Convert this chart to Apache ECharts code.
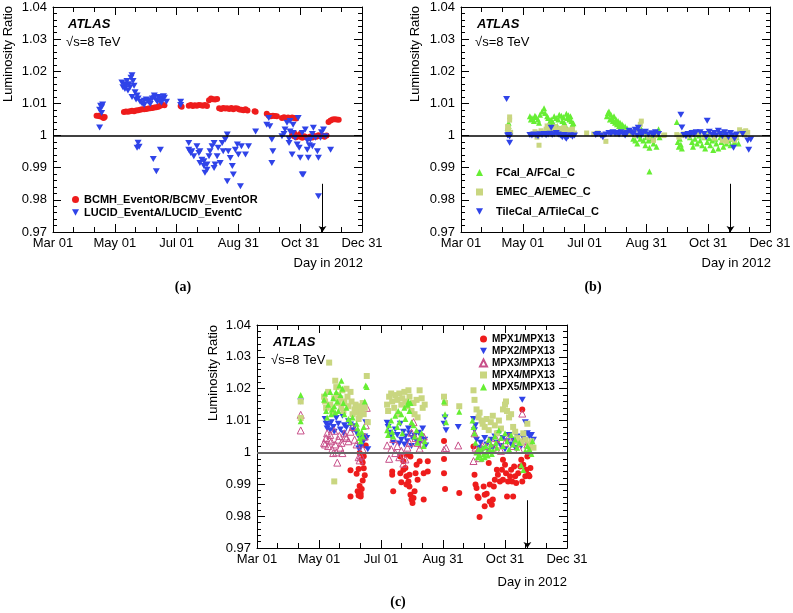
<!DOCTYPE html>
<html><head><meta charset="utf-8">
<script src="https://cdn.jsdelivr.net/npm/echarts@6.0.0/dist/echarts.min.js"></script>
<style>html,body{margin:0;padding:0;background:#fff}#c{width:793px;height:613px}</style>
</head><body><div id="c"></div>
<script>
// x values: days since Mar 01, 2012
const xTickLabels = ['Mar 01','May 01','Jul 01','Aug 31','Oct 31','Dec 31'];
const xTickStepDays = 61;
const xRange = [0, 305];
const yTickLabels = ['0.97','0.98','0.99','1','1.01','1.02','1.03','1.04'];
const yRange = [0.97, 1.04];
const refLine = [1.0];
const arrowDay = [266];
const arrowSpan = [0.985, 0.97];

// panel (a)
const bcmh = [
[43,1.0062],[45,1.0062],[46,1.0060],[47,1.0060],[49,1.0057],[50,1.0055],[51,1.0058],
[70,1.0073],[72,1.0075],[74,1.0074],[76,1.0076],[78,1.0077],[80,1.0076],[82,1.0078],[84,1.0079],[86,1.0080],[88,1.0082],[90,1.0082],[92,1.0083],[94,1.0084],[96,1.0085],[98,1.0086],[100,1.0087],[102,1.0088],[104,1.0090],[106,1.0093],[108,1.0095],[110,1.0094],
[126,1.0092],[127,1.0090],
[134,1.0093],[136,1.0095],[138,1.0092],[140,1.0094],[142,1.0093],[144,1.0095],[146,1.0094],[148,1.0093],[150,1.0095],[152,1.0092],
[154,1.0110],[156,1.0115],[158,1.0113],[160,1.0112],[162,1.0114],
[164,1.0085],[166,1.0083],[168,1.0086],[170,1.0084],[172,1.0085],[174,1.0083],[176,1.0086],[178,1.0082],[180,1.0085],[182,1.0084],[184,1.0081],
[186,1.0080],[188,1.0079],[190,1.0082],[192,1.0078],
[199,1.0076],[200,1.0074],
[211,1.0068],[213,1.0062],[215,1.0060],[217,1.0062],[219,1.0061],[221,1.0060],
[226,1.0055],[228,1.0057],[230,1.0054],[232,1.0056],[234,1.0055],[236,1.0056],[238,1.0055],[240,1.0053],
[236,1.0002],[238,0.9998],[240,0.9995],[242,1.0000],[244,0.9996],[246,0.9993],[248,0.9998],[250,0.9995],[252,0.9992],[254,0.9997],[256,0.9994],[258,0.9999],[260,0.9996],[262,1.0001],[264,0.9998],[266,1.0000],[268,0.9996],[270,1.0000],[238,1.0008],[244,1.0005],
[272,1.0042],[274,1.0047],[276,1.0050],[278,1.0051],[280,1.0050],[282,1.0049]
];
const lucid = [
[46,1.0025],[46,1.0080],[47,1.0093],[48,1.0088],[48,1.0070],[49,1.0097],
[68,1.0165],[69,1.0150],[70,1.0160],[71,1.0145],[72,1.0155],[73,1.0170],[74,1.0140],[75,1.0160],[76,1.0150],[77,1.0180],[78,1.0188],[79,1.0170],[80,1.0155],[78,1.0120],[81,1.0135],[82,1.0112],
[83,1.0125],[84,1.0115],[86,1.0105],[88,1.0100],[90,1.0108],[92,1.0112],[94,1.0105],[96,1.0110],[98,1.0115],[100,1.0118],[102,1.0110],[104,1.0120],[106,1.0115],[108,1.0112],[110,1.0118],[112,1.0105],[90,1.0095],[96,1.0098],[103,1.0105],[107,1.0102],[100,1.0125],[105,1.0108],[109,1.0122],
[84,0.9978],[83,0.9962],[85,0.9965],[99,0.9927],[102,0.9889],[106,0.9956],
[126,1.0105],[126,1.0095],
[134,0.9977],[134,0.9956],[136,0.9946],[137,0.9951],[139,0.9936],[142,0.9967],[144,0.9946],[145,0.9951],[145,0.9915],[147,0.9925],[149,0.9905],[149,0.9920],[150,0.9884],[152,0.9894],[152,0.9910],[154,0.9936],[155,0.9951],[157,0.9967],[159,0.9977],[159,0.9899],[160,0.9910],[162,0.9936],[163,0.9962],[165,0.9915],[167,0.9977],[168,0.9951],[170,0.9988],[172,1.0003],[172,0.9858],[173,0.9951],[175,0.9930],[177,0.9905],[178,0.9879],[180,0.9956],[182,0.9972],[183,0.9941],[185,0.9842],[186,0.9967],[190,0.9941],[193,0.9967],[200,1.0013],
[211,1.0034],[213,1.0055],[214,1.0029],[216,0.9988],[217,0.9951],[216,0.9915],
[226,0.9998],[228,1.0005],[229,1.0019],[231,1.0040],[233,0.9990],[233,0.9977],[234,1.0013],[234,1.0045],[236,0.9941],[237,1.0034],[237,1.0008],[239,0.9993],[241,0.9972],[242,1.0055],[243,0.9962],[244,0.9931],[246,0.9879],[246,1.0008],[247,0.9879],[249,1.0019],[251,0.9956],[251,0.9985],[252,0.9931],[253,0.9970],[254,0.9988],[256,0.9967],[256,1.0005],[257,1.0024],[259,0.9993],[261,0.9951],[262,0.9931],[262,0.9811],[264,0.9993],[265,1.0010],[267,1.0019],[269,0.9998],[274,0.9956]
];

// panel (b)
const fcal = [
[46,1.0024],[47,1.0040],[47,1.0030],
[68,1.0060],[69,1.0050],[70,1.0055],[72,1.0045],[73,1.0062],[74,1.0058],[76,1.0050],[77,1.0040],[78,1.0065],[80,1.0075],[82,1.0085],[83,1.0070],[85,1.0060],[86,1.0055],[87,1.0035],[88,1.0045],[89,1.0050],[91,1.0040],[92,1.0060],[94,1.0055],[95,1.0030],[96,1.0050],[97,1.0065],[99,1.0062],[100,1.0045],[101,1.0058],[102,1.0040],[103,1.0032],[104,1.0068],[105,1.0055],[106,1.0063],[107,1.0050],[108,1.0060],[109,1.0045],[110,1.0035],[111,1.0038],
[144,1.0060],[145,1.0070],[146,1.0075],[147,1.0050],[148,1.0065],[149,1.0055],[150,1.0045],[151,1.0060],[152,1.0040],[153,1.0050],[154,1.0035],[155,1.0045],[156,1.0030],[157,1.0040],[158,1.0025],[159,1.0035],[160,1.0030],[161,1.0020],[162,1.0028],[164,1.0022],
[166,1.0010],[168,1.0015],[170,0.9990],[171,1.0005],[172,0.9985],[174,0.9975],[176,1.0000],[177,0.9990],[178,1.0020],[180,0.9985],[181,1.0010],[182,0.9970],[183,0.9995],[184,1.0005],[185,0.9985],[186,0.9962],[186,0.9888],[188,0.9990],[189,1.0000],[190,0.9975],[192,1.0010],[193,0.9965],[195,1.0020],[196,0.9995],
[213,1.0042],[214,0.9980],[215,0.9965],[216,0.9990],[217,0.9972],[218,0.9960],[226,0.9995],[227,1.0010],[228,0.9980],[229,0.9965],[231,0.9990],[232,1.0005],[233,0.9975],[235,1.0000],[236,0.9985],[238,0.9970],[240,0.9995],[241,0.9960],[243,0.9980],[244,1.0008],[245,0.9992],[246,0.9970],[248,0.9985],[249,0.9955],[250,1.0003],[251,0.9990],[252,0.9975],[254,0.9960],[256,0.9995],[257,0.9980],[258,1.0006],[259,0.9965],[261,0.9990],[262,0.9975],[264,0.9985],[266,0.9970],[268,0.9990],[270,0.9980],[272,0.9995],[274,0.9975]
];
const emec = [
[46,1.0028],[46,1.0015],[47,1.0022],[48,1.0058],[48,1.0048],[49,1.0010],[48,1.0004],
[70,1.0005],[73,1.0012],[75,0.9995],[76,1.0008],[77,0.9970],[79,1.0015],[82,1.0010],[84,1.0020],[85,1.0030],[86,1.0012],[88,1.0025],[90,1.0015],[92,1.0008],[93,1.0028],[94,1.0018],[96,1.0010],[98,1.0022],[100,1.0015],[102,1.0025],[104,1.0012],[106,1.0018],[108,1.0010],[110,1.0020],[112,1.0008],
[124,1.0008],[131,1.0005],[135,1.0008],[140,1.0002],[143,0.9982],[150,1.0010],[155,1.0005],[160,1.0012],[165,1.0003],[170,1.0008],[172,1.0000],[175,1.0020],[177,1.0035],[178,1.0045],[180,1.0008],[185,0.9995],[188,1.0003],[190,0.9985],[192,1.0000],[200,1.0000],[201,1.0002],
[213,1.0003],[215,0.9995],[218,1.0000],[220,1.0005],[225,0.9998],[230,1.0003],[235,1.0008],[240,0.9995],[245,1.0002],[250,0.9992],[255,1.0005],[258,0.9985],[260,0.9995],[262,0.9982],[265,0.9990],[268,1.0000],[270,0.9985],[272,0.9995],[275,1.0018],[277,1.0012],[279,1.0008],[280,1.0002],[281,1.0015],[283,1.0010]
];
const tile = [
[45,1.0114],[46,1.0000],[47,1.0002],[48,0.9997],[48,0.9978],
[68,1.0002],[70,1.0000],[72,1.0003],[74,1.0001],[76,0.9998],[78,1.0004],[80,1.0002],[82,1.0005],[84,1.0001],[86,1.0003],[88,1.0006],[89,1.0024],[90,1.0002],[92,1.0004],[94,1.0008],[96,1.0003],[98,1.0000],[100,0.9995],[102,1.0002],[103,0.9993],[104,0.9990],[106,0.9998],[108,1.0001],[110,0.9996],[112,1.0000],
[133,1.0002],[135,1.0005],[138,1.0000],[140,0.9995],[143,1.0003],[146,1.0008],[148,1.0005],[150,1.0010],[152,1.0006],[154,1.0008],[156,1.0003],[158,1.0010],[160,1.0005],[162,1.0000],[164,1.0008],[166,1.0015],[168,1.0010],[170,1.0005],[172,1.0018],[174,1.0000],[175,1.0024],[176,1.0012],[178,1.0002],[180,1.0008],[182,1.0012],[185,1.0003],[188,1.0007],[190,1.0002],[192,1.0010],[195,1.0005],
[217,1.0065],[218,1.0025],[220,1.0002],[222,0.9998],[224,1.0005],[226,1.0000],[228,1.0008],[230,1.0003],[232,1.0010],[236,1.0010],[240,1.0005],[242,0.9995],[243,1.0046],[245,1.0012],[248,1.0002],[250,1.0008],[252,1.0000],[254,1.0015],[256,1.0005],[258,0.9998],[260,1.0010],[262,1.0003],[264,0.9995],[266,1.0008],[268,1.0000],[269,0.9962],[270,0.9990],[272,1.0003],[278,1.0005],[283,0.9985],[284,0.9956],[286,0.9988]
];

// panel (c)
const mpx1 = [
[92,0.9944],[92,0.9862],[98,0.9933],[99,0.9878],[100,0.9865],[100,0.9948],[101,0.9895],[101,0.9998],[102,0.9870],[102,0.9862],[103,0.9885],[103,0.9977],[104,0.9912],[104,0.9968],[105,0.9950],[105,0.9988],[106,0.9928],[107,1.0022],
[133,0.9940],[133,0.9930],[134,0.9878],[141,0.9987],[141,0.9935],[142,0.9906],[144,0.9972],[144,0.9946],[146,0.9951],[147,0.9925],[147,0.9899],[147,0.9993],[149,0.9909],[150,0.9893],[150,0.9930],[151,0.9867],[151,0.9987],[152,0.9852],[153,0.9841],[154,0.9857],[155,0.9878],[156,0.9935],[157,0.9961],[158,0.9914],[160,0.9972],[164,0.9935],[164,0.9852],[168,0.9972],[168,0.9940],
[184,0.9979],[184,0.9935],[185,0.9885],[184,1.0036],[199,0.9873],
[213,1.0019],[214,0.9930],[215,0.9899],[216,0.9888],[217,0.9862],[218,0.9857],[219,0.9797],
[223,0.9893],[224,0.9867],[224,0.9831],[226,0.9870],[228,0.9967],[229,0.9899],[229,0.9846],[231,0.9836],[232,0.9852],[233,0.9893],[234,0.9914],[236,0.9946],[237,0.9930],[239,0.9909],[241,0.9946],[242,0.9977],[242,0.9914],[244,0.9961],[245,0.9935],[246,0.9862],[247,0.9909],[249,0.9925],[250,0.9946],[251,0.9909],[252,0.9862],[253,0.9956],[254,0.9925],[255,0.9904],[257,0.9935],[259,0.9956],[260,0.9977],[261,0.9909],[261,1.0135],[262,0.9961],[264,0.9925],[265,0.9946],[266,0.9987],[267,0.9930],[268,0.9925],[269,0.9951]
];
const mpx2 = [
[43,1.0160],
[67,1.0105],[68,1.0090],[69,1.0075],[70,1.0085],[72,1.0070],[73,1.0095],[75,1.0080],[76,1.0065],[78,1.0108],[80,1.0090],[82,1.0072],[84,1.0115],[85,1.0060],[86,1.0085],[88,1.0078],[90,1.0098],[92,1.0088],[94,1.0070],[96,1.0082],[98,1.0062],[100,1.0050],[100,1.0012],[101,1.0020],[102,1.0015],[103,1.0045],[104,1.0030],[105,1.0040],[106,1.0050],[107,1.0095],[108,1.0045],[109,1.0010],
[128,1.0093],[129,1.0080],[130,1.0062],[132,1.0050],[134,1.0030],[136,1.0072],[138,1.0055],[140,1.0028],[141,1.0090],[142,1.0040],[144,1.0065],[145,1.0025],[146,1.0050],[148,1.0035],[149,1.0075],[150,1.0060],[152,1.0020],[153,1.0045],[155,1.0052],[157,1.0035],[159,1.0062],[160,1.0028],[162,1.0048],[163,1.0075],[165,1.0040],[166,1.0022],
[184,1.0090],[185,1.0110],[186,1.0070],[198,1.0080],
[213,1.0105],[214,1.0070],[215,1.0085],[216,1.0040],[218,1.0015],[220,1.0030],[222,1.0010],[224,1.0045],[226,1.0025],[228,1.0005],[230,1.0040],[232,1.0015],[234,1.0050],[236,1.0030],[238,1.0060],[240,1.0020],[242,1.0045],[244,1.0010],[246,1.0035],[248,1.0055],[250,1.0025],[252,1.0040],[254,1.0015],[256,1.0050],[258,1.0030],[260,1.0020],[261,1.0165],[262,1.0045],[264,1.0095],[266,1.0060],[268,1.0050],[270,1.0055],[272,1.0040]
];
const mpx3 = [
[43,1.0118],[43,1.0069],
[66,1.0030],[67,1.0025],[68,1.0045],[69,1.0060],[70,1.0020],[71,1.0040],[72,1.0055],[73,1.0035],[74,1.0010],[75,0.9998],[76,1.0068],[77,1.0025],[78,1.0000],[79,0.9968],[80,1.0040],[81,1.0052],[82,1.0015],[83,1.0030],[84,0.9998],[86,1.0060],[87,1.0050],[88,1.0045],[90,1.0035],[92,1.0065],[94,1.0080],[96,1.0040],[98,1.0025],[100,0.9985],[101,0.9975],[102,0.9990],[104,1.0010],[106,1.0050],[107,1.0085],[108,1.0140],
[128,1.0022],[130,0.9980],[132,1.0010],[134,1.0042],[136,0.9998],[138,1.0020],[140,0.9985],[142,1.0005],[144,0.9965],[146,0.9978],[148,1.0015],[150,1.0030],[152,1.0062],[154,1.0095],[156,1.0045],[158,1.0030],[160,1.0012],[162,1.0025],[164,1.0050],
[184,1.0008],[186,1.0014],[198,1.0022],
[213,0.9973],[214,1.0060],[215,1.0015],[217,1.0005],[219,0.9982],[222,1.0020],[225,1.0010],[228,1.0035],[232,1.0015],[235,1.0045],[238,1.0025],[240,1.0005],[244,1.0030],[248,1.0050],[252,1.0020],[255,1.0040],[258,1.0010],[261,1.0122],[262,1.0035],[266,1.0025],[268,1.0005],[270,1.0020]
];
const mpx4 = [
[43,1.0160],[43,1.0108],
[66,1.0175],[67,1.0160],[68,1.0140],[71,1.0282],[70,1.0190],[72,1.0150],[74,1.0130],[76,0.9909],[76,1.0170],[77,1.0225],[78,1.0205],[79,1.0180],[80,1.0155],[82,1.0170],[83,1.0140],[84,1.0195],[85,1.0130],[86,1.0160],[88,1.0200],[89,1.0175],[90,1.0145],[92,1.0190],[93,1.0160],[94,1.0120],[96,1.0135],[97,1.0150],[98,1.0125],[99,1.0140],[100,1.0105],[101,1.0115],[102,1.0145],[103,1.0130],[104,1.0155],[105,1.0120],[106,1.0140],[108,1.0240],[109,1.0095],
[128,1.0150],[129,1.0130],[130,1.0175],[132,1.0185],[133,1.0160],[135,1.0140],[136,1.0180],[138,1.0165],[139,1.0120],[140,1.0185],[142,1.0150],[143,1.0170],[145,1.0190],[146,1.0160],[148,1.0145],[149,1.0195],[150,1.0175],[152,1.0130],[154,1.0155],[155,1.0120],[157,1.0165],[158,1.0110],[160,1.0195],[162,1.0170],[163,1.0140],[165,1.0150],
[184,1.0175],[185,1.0155],[199,1.0145],
[213,1.0195],[214,1.0165],[216,1.0135],[218,1.0110],[219,1.0125],[221,1.0100],[222,1.0090],[224,1.0080],[226,1.0105],[228,1.0070],[230,1.0095],[232,1.0115],[234,1.0085],[236,1.0060],[238,1.0100],[240,1.0075],[242,1.0135],[244,1.0150],[245,1.0160],[246,1.0130],[248,1.0110],[250,1.0120],[252,1.0080],[254,1.0065],[256,1.0045],[258,1.0035],[260,1.0030],[262,1.0060],[264,1.0040],[266,1.0090],[268,1.0025],[270,1.0035],[272,1.0015]
];
const mpx5 = [
[43,1.0180],[43,1.0098],
[66,1.0165],[67,1.0185],[68,1.0130],[69,1.0110],[70,1.0150],[72,1.0190],[73,1.0120],[74,1.0135],[75,1.0170],[76,1.0145],[77,1.0125],[78,1.0190],[79,1.0160],[80,1.0130],[81,1.0210],[82,1.0180],[83,1.0225],[84,1.0200],[85,1.0155],[86,1.0120],[88,1.0140],[90,1.0105],[92,1.0095],[94,1.0110],[98,1.0090],[99,1.0075],[100,1.0060],[101,1.0045],[102,1.0035],[103,1.0065],[104,1.0050],[105,1.0080],[106,1.0160],[107,1.0210],[108,1.0205],
[128,1.0070],[129,1.0055],[130,1.0085],[132,1.0100],[133,1.0065],[134,1.0050],[136,1.0115],[138,1.0080],[139,1.0130],[140,1.0095],[142,1.0120],[143,1.0060],[145,1.0140],[146,1.0105],[148,1.0150],[149,1.0160],[150,1.0130],[151,1.0155],[152,1.0095],[154,1.0085],[155,1.0050],[157,1.0070],[158,1.0030],[160,1.0045],[162,1.0060],[164,1.0020],[165,1.0035],
[184,1.0160],[185,1.0120],[186,1.0095],[199,1.0128],
[212,1.0100],[213,1.0080],[214,1.0060],[215,1.0030],[216,1.0000],[217,0.9985],[218,1.0010],[219,0.9990],[220,1.0005],[221,0.9980],[222,1.0015],[223,0.9995],[224,0.9985],[225,1.0020],[226,1.0000],[227,0.9990],[228,1.0040],[229,1.0010],[230,1.0025],[231,0.9995],[232,1.0005],[234,1.0050],[235,1.0030],[236,1.0015],[238,1.0070],[240,1.0045],[242,1.0020],[244,1.0060],[246,1.0035],[248,1.0010],[250,1.0055],[252,1.0025],[254,1.0040],[256,1.0015],[258,1.0030],[260,0.9960],[262,0.9945],[264,1.0005],[266,1.0020],[268,1.0010],[270,0.9995],[271,1.0035]
];

const FONT = "'Liberation Sans', Arial, Helvetica, sans-serif";
const TRI_DOWN = 'path://M0,0L10,0L5,9Z';
const RED = '#ee1c1c', BLUE = '#2f43e8', GREEN = '#66ee33', KHAKI = '#c9d680', PINK = '#c8508a';

const grids = [
  {left: 53, top: 7, width: 309, height: 225},
  {left: 461, top: 7, width: 309, height: 225},
  {left: 257, top: 325, width: 310, height: 223}
].map(g => Object.assign({containLabel: false, outerBoundsMode: 'none'}, g));

const xAxes = [], yAxes = [];
for (let g = 0; g < 3; g++) {
  for (const pos of ['bottom', 'top']) {
    xAxes.push({
      type: 'value', gridIndex: g, position: pos, min: xRange[0], max: xRange[1], interval: xTickStepDays,
      axisLine: {show: true, onZero: false, lineStyle: {color: '#000', width: 1}},
      axisTick: {show: true, inside: true, length: 8, lineStyle: {color: '#000', width: 1}},
      minorTick: {show: true, splitNumber: 3, length: 5, lineStyle: {color: '#000', width: 1}},
      splitLine: {show: false}, minorSplitLine: {show: false},
      axisLabel: {show: pos === 'bottom', margin: 5, color: '#000', fontSize: 13, fontFamily: FONT,
        showMinLabel: true, showMaxLabel: true, hideOverlap: false,
        formatter: v => { const i = Math.round(v / xTickStepDays); return Math.abs(v - i * xTickStepDays) < 0.01 ? (xTickLabels[i] || '') : ''; }}
    });
  }
  for (const pos of ['left', 'right']) {
    yAxes.push({
      type: 'value', gridIndex: g, position: pos, min: yRange[0], max: yRange[1], interval: 0.01,
      axisLine: {show: true, onZero: false, lineStyle: {color: '#000', width: 1}},
      axisTick: {show: true, inside: true, length: 8, lineStyle: {color: '#000', width: 1}},
      minorTick: {show: true, splitNumber: 5, length: 4, lineStyle: {color: '#000', width: 1}},
      splitLine: {show: false}, minorSplitLine: {show: false},
      axisLabel: {show: pos === 'left', margin: 6, color: '#000', fontSize: 13, fontFamily: FONT,
        showMinLabel: true, showMaxLabel: true, hideOverlap: false,
        formatter: v => yTickLabels[Math.round((v - yRange[0]) / 0.01)] || ''}
    });
  }
}

function sc(name, data, g, symbol, size, style) {
  return {type: 'scatter', name, data, xAxisIndex: 2 * g, yAxisIndex: 2 * g,
    symbol, symbolSize: size, itemStyle: Object.assign({opacity: 1}, style), silent: true, animation: false,
    emphasis: {disabled: true}};
}
function refMark(color, width) {
  return {silent: true, symbol: ['none', 'none'], animation: false,
    label: {show: false}, lineStyle: {color, width, type: 'solid', opacity: 1},
    data: [{yAxis: refLine[0]}]};
}
function arrowMark() {
  return {silent: true, symbol: ['none', 'arrow'], symbolSize: 6, animation: false,
    label: {show: false}, lineStyle: {color: '#000', width: 1, type: 'solid', opacity: 1},
    itemStyle: {color: '#000'},
    data: [[{coord: [arrowDay[0], arrowSpan[0]]}, {coord: [arrowDay[0], arrowSpan[1]]}]]};
}

const series = [
  sc('BCMH_EventOR/BCMV_EventOR', bcmh, 0, 'circle', 6, {color: RED}),
  sc('LUCID_EventA/LUCID_EventC', lucid, 0, TRI_DOWN, [7, 6], {color: BLUE}),
  sc('FCal_A/FCal_C', fcal, 1, 'triangle', [6, 6], {color: GREEN}),
  sc('EMEC_A/EMEC_C', emec, 1, 'rect', 5, {color: KHAKI}),
  sc('TileCal_A/TileCal_C', tile, 1, TRI_DOWN, [7, 6], {color: BLUE}),
  sc('MPX1/MPX13', mpx1, 2, 'circle', 6, {color: RED}),
  sc('MPX2/MPX13', mpx2, 2, TRI_DOWN, [7, 6], {color: BLUE}),
  sc('MPX3/MPX13', mpx3, 2, 'triangle', [7, 7], {color: 'rgba(0,0,0,0)', borderColor: PINK, borderWidth: 1}),
  sc('MPX4/MPX13', mpx4, 2, 'rect', 6, {color: KHAKI}),
  sc('MPX5/MPX13', mpx5, 2, 'triangle', [6, 6], {color: GREEN})
];
series[0].markLine = refMark('#000', 1.5);
series[1].markLine = arrowMark();
series[2].markLine = refMark('#000', 1.5);
series[3].markLine = arrowMark();
series[5].markLine = refMark('#666', 2);
series[6].markLine = arrowMark();

function legend(names, left, top, fontSize, lineHeight, gap, pad) {
  return {data: names, orient: 'vertical', left, top, itemWidth: 7, itemHeight: 7, itemGap: gap,
    selectedMode: false, padding: 0,
    textStyle: {fontSize, fontWeight: 'bold', fontFamily: FONT, color: '#000', lineHeight, padding: [0, 0, 0, pad]}};
}

function txt(x, y, text, font, align, vAlign, rot) {
  return {type: 'text', x, y, rotation: rot || 0, silent: true,
    style: {text, font, fill: '#000', align, verticalAlign: vAlign}};
}
const ATL = "italic bold 13px " + FONT, NRM = "13px " + FONT, SER = "bold 14px 'Liberation Serif', 'Times New Roman', serif";
const graphics = [
  txt(68, 24, 'ATLAS', ATL, 'left', 'middle'), txt(66, 42, '√s=8 TeV', NRM, 'left', 'middle'),
  txt(477, 24, 'ATLAS', ATL, 'left', 'middle'), txt(475, 42, '√s=8 TeV', NRM, 'left', 'middle'),
  txt(273, 342, 'ATLAS', ATL, 'left', 'middle'), txt(271, 360, '√s=8 TeV', NRM, 'left', 'middle'),
  txt(363, 263, 'Day in 2012', NRM, 'right', 'middle'),
  txt(771, 263, 'Day in 2012', NRM, 'right', 'middle'),
  txt(567, 582, 'Day in 2012', NRM, 'right', 'middle'),
  txt(8, 6, 'Luminosity Ratio', NRM, 'right', 'middle', Math.PI / 2),
  txt(415, 6, 'Luminosity Ratio', NRM, 'right', 'middle', Math.PI / 2),
  txt(213, 325, 'Luminosity Ratio', NRM, 'right', 'middle', Math.PI / 2),
  txt(183, 287, '(a)', SER, 'center', 'middle'),
  txt(593, 287, '(b)', SER, 'center', 'middle'),
  txt(398, 602, '(c)', SER, 'center', 'middle')
];

const chart = echarts.init(document.getElementById('c'), null, {renderer: 'canvas'});
chart.setOption({
  animation: false,
  backgroundColor: '#fff',
  textStyle: {fontFamily: FONT},
  grid: grids,
  xAxis: xAxes,
  yAxis: yAxes,
  legend: [
    legend(['BCMH_EventOR/BCMV_EventOR', 'LUCID_EventA/LUCID_EventC'], 72, 193, 11, 13, 0, 0),
    legend(['FCal_A/FCal_C', 'EMEC_A/EMEC_C', 'TileCal_A/TileCal_C'], 476, 166, 11, 13, 6.5, 8),
    legend(['MPX1/MPX13', 'MPX2/MPX13', 'MPX3/MPX13', 'MPX4/MPX13', 'MPX5/MPX13'], 479, 333, 10, 12, 0, 0)
  ],
  graphic: graphics,
  series
});
</script>
</body></html>
